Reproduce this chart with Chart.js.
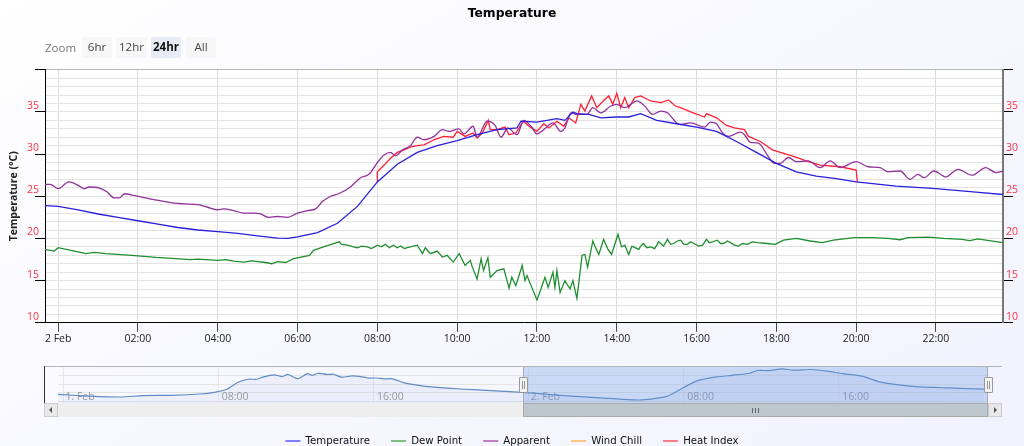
<!DOCTYPE html>
<html><head><meta charset="utf-8">
<script src="https://cdn.jsdelivr.net/npm/chart.js@4"></script>
<style>
html,body{margin:0;padding:0;width:1024px;height:446px;overflow:hidden;background:linear-gradient(150deg,#ffffff 0%,#f8f8ff 45%,#f1f2fe 100%);font-family:"Open Sans",sans-serif}
canvas{position:absolute;left:0}
#main{top:0}#nav{top:360px}
.abs{position:absolute}
.btn{position:absolute;top:37px;height:21px;line-height:19px;text-align:center;font-size:11.5px;color:#444;background:#f7f7f7;border-radius:2px}
.btn.on{background:#e6ebf5;font-weight:bold;color:#111}
#zoomlab{position:absolute;left:45px;top:39px;font-size:11.5px;color:#777;line-height:17px}
.hd{position:absolute;top:377px;width:7px;height:14px;background:#f2f2f2;border:1px solid #999;border-radius:1px}
.hd i{position:absolute;top:3px;width:1px;height:8px;background:#999}
</style></head><body>
<canvas id="main" width="1024" height="456"></canvas>
<canvas id="nav" width="1024" height="50"></canvas>
<div id="zoomlab">Zoom</div>
<div class="btn" style="left:82px;width:30px">6hr</div>
<div class="btn" style="left:116px;width:31px">12hr</div>
<div class="btn on" style="left:151px;width:30px">24hr</div>
<div class="btn" style="left:186px;width:30px">All</div>
<div class="abs" style="left:44px;top:367px;width:14px;height:36px;background:#fbfbff"></div>
<div class="abs" style="left:44px;top:366px;width:958px;height:1px;background:#b4b4b4"></div>
<div class="abs" style="left:44px;top:366px;width:1px;height:37px;background:#333"></div>
<div class="abs" style="left:523px;top:367px;width:465px;height:36px;background:rgba(102,150,225,.3);border-left:1px solid #aab;border-right:1px solid #aab;box-sizing:border-box"></div>
<div class="abs" style="left:44px;top:403px;width:958px;height:14px;background:#eeeeee"></div>
<div class="abs" style="left:523px;top:403px;width:465px;height:14px;background:#bfc7ce;box-sizing:border-box;border:1px solid #aaa"></div>
<div class="abs" style="left:752px;top:408px;width:1px;height:5px;background:#666;box-shadow:3px 0 #666,6px 0 #666"></div>
<div class="abs" style="left:44px;top:403px;width:14px;height:14px;background:#e8e8e8;border:1px solid #ccc;box-sizing:border-box"></div>
<div class="abs" style="left:49px;top:407px;border:3px solid transparent;border-right:3px solid #555;border-left:0"></div>
<div class="abs" style="left:988px;top:403px;width:14px;height:14px;background:#e8e8e8;border:1px solid #ccc;box-sizing:border-box"></div>
<div class="abs" style="left:994px;top:407px;border:3px solid transparent;border-left:3px solid #555;border-right:0"></div>
<div class="hd" style="left:519px"><i style="left:2px"></i><i style="left:4px"></i></div>
<div class="hd" style="left:984px"><i style="left:2px"></i><i style="left:4px"></i></div>
<script>
const seriesNames=["Temperature","Dew Point","Apparent","Wind Chill","Heat Index"];
const lineColors=["#2a1fdc","#1f8f2f","#92309c","#f7a035","#ff2035"];
const legendColors=["#7f7fff","#7fbf7f","#c07fc0","#ffc680","#ff7f8c"];
const titleText="Temperature";
const yAxisTitle="Temperature (°C)";
const yLabels=[10,15,20,25,30,35];
const xTickHours=[0,2,4,6,8,10,12,14,16,18,20,22];
const xTickLabels=["2 Feb","02:00","04:00","06:00","08:00","10:00","12:00","14:00","16:00","18:00","20:00","22:00"];

const tempH=[-0.33,0,0.5,1,1.5,2,2.5,3,3.5,4,4.5,5,5.5,5.75,6,6.5,7,7.5,8,8.5,9,9.5,10,10.5,11,11.5,11.6,12,12.5,12.7,12.9,13,13.3,13.6,14,14.3,14.6,15,15.5,16,16.5,17,17.5,18,18.5,19,19.5,20,21,22,23,23.7];
const tempV=[23.9,23.8,23.4,22.9,22.5,22.1,21.7,21.3,21,20.8,20.6,20.3,20.05,20,20.2,20.7,21.8,23.8,26.7,28.8,30.2,31,31.6,32.3,32.9,33.1,33.9,33.8,34.2,34,35,34.8,34.7,34.3,34.4,34.4,34.8,34,33.6,33.2,32.7,31.5,30.2,28.9,27.9,27.4,27.1,26.7,26.2,25.9,25.5,25.2];

const dewH=[-0.33,-0.1,0,0.5,0.7,0.9,1.2,1.85,2.45,2.95,3.3,3.5,4,4.2,4.4,4.65,4.85,5.2,5.35,5.5,5.7,5.9,6.3,6.4,6.65,6.9,7.05,7.1,7.25,7.4,7.5,7.6,7.75,7.85,8,8.1,8.2,8.3,8.4,8.5,8.58,8.68,8.75,9,9.13,9.2,9.33,9.5,9.63,9.75,9.9,10.05,10.2,10.33,10.38,10.5,10.6,10.66,10.77,10.83,11,11.17,11.3,11.37,11.47,11.63,11.7,11.75,11.87,12,12.1,12.2,12.28,12.4,12.45,12.5,12.58,12.7,12.83,12.9,13,13.03,13.13,13.2,13.27,13.4,13.46,13.55,13.67,13.77,13.87,14.03,14.12,14.2,14.3,14.38,14.55,14.6,14.67,14.75,14.85,14.95,15.05,15.17,15.27,15.35,15.43,15.52,15.6,15.68,15.77,15.85,15.93,16.05,16.15,16.25,16.32,16.4,16.52,16.6,16.68,16.77,16.85,16.95,17.05,17.15,17.27,17.4,17.52,17.77,17.97,18.18,18.5,18.85,19.15,19.43,19.95,20.37,20.8,21.1,21.3,21.8,22.2,22.65,22.85,23.05,23.25,23.7];
const dewV=[18.7,18.5,18.9,18.4,18.2,18.35,18.2,18,17.75,17.6,17.5,17.55,17.4,17.5,17.3,17.2,17.35,17.15,17,17.25,17.15,17.6,18,18.6,19,19.4,19.6,19.3,19.2,19,18.9,19.1,19,18.8,19.2,19,19.3,18.9,19.2,18.9,19.1,18.8,18.9,19.2,18.2,18.9,18.2,18.5,17.8,18,17.2,18.2,16.8,17.4,16.6,15.2,17.6,16.2,17.7,15.4,16.2,16.4,14.1,15.4,14.4,16.8,15,15.6,14.2,12.7,14,15.4,14.2,16,14.2,16.2,13.6,15,14,15,12.9,14,18,18.1,16.6,19.7,19,18.1,19.9,18.8,18.1,20.5,19,19.2,18.1,19.1,18.7,19.1,19.4,18.9,19,18.8,19.6,19.1,19.9,19.3,19.4,19.7,19.8,19.3,19.3,19.6,19.4,19.1,19.2,19.9,19.5,19.6,19.8,19.4,19.4,19.7,19.5,19.2,19.1,19.4,19.3,19.6,19.5,19.4,19.3,19.8,20,19.7,19.5,19.8,20.1,20.1,20,19.85,20.1,20.15,20,19.9,19.75,19.95,19.8,19.5];

const appH=[-0.33,-0.2,0,0.27,0.5,0.65,0.77,1.02,1.23,1.4,1.53,1.67,1.9,2.3,2.65,2.9,3.15,3.5,3.75,4,4.15,4.4,4.65,4.9,5.07,5.28,5.5,5.75,6,6.25,6.45,6.63,6.83,7.03,7.3,7.58,7.75,7.83,8,8.17,8.33,8.46,8.63,8.83,9,9.17,9.42,9.63,9.8,10.04,10.17,10.4,10.5,10.75,10.95,11.1,11.27,11.5,11.67,11.85,12,12.17,12.4,12.6,12.7,12.85,13,13.25,13.4,13.6,13.85,14,14.2,14.35,14.5,14.7,14.9,15.1,15.27,15.5,15.6,15.85,16.2,16.35,16.5,16.65,16.8,17.1,17.2,17.35,17.55,17.8,17.95,18.1,18.3,18.5,18.8,19.1,19.35,19.6,20,20.3,20.6,20.8,21.1,21.35,21.55,21.7,21.95,22.25,22.55,22.9,23.25,23.5,23.7];
const appV=[26.4,26.4,25.9,26.7,26.3,25.9,26.1,26,25.5,24.8,24.8,25.3,25.1,24.7,24.4,24.2,24.1,24,23.7,23.4,23.5,23.3,23,23,22.9,22.5,22.6,22.5,23,23.3,23.5,24.4,25,25.3,26,27.2,27.5,27.8,29,29.9,30.2,29.8,30.5,31,32,31.7,32.1,32.9,32.7,33,32.4,33.3,32,33.9,33.4,32,33.1,32.3,34,33.3,32.4,32.9,33.7,32.7,33.1,34.9,34.7,34.7,35.5,34.9,35.7,35.9,35.5,35.9,36.3,35.7,34.7,35.1,34.9,33.7,33.5,33.7,33.2,33.8,33.6,32.5,32.1,32.6,32.3,31.4,31.3,29.7,28.9,28.9,29.6,29.1,29.2,28.4,29.2,28.4,29.1,28.5,28.4,27.9,28,27,27.6,27.2,28,27.3,28.2,27.5,28.4,27.8,28];

const windH=[];
const windV=[];

const heatH=[8,8,8.17,8.33,8.5,8.67,8.87,9,9.17,9.42,9.66,9.9,10,10.2,10.4,10.5,10.63,10.78,10.83,11,11.2,11.3,11.47,11.66,11.8,12,12.17,12.3,12.5,12.67,12.8,12.97,13.1,13.2,13.37,13.5,13.66,13.8,13.9,14,14.1,14.2,14.3,14.45,14.6,14.85,15.1,15.3,15.47,15.6,15.85,16.2,16.25,16.5,16.75,16.95,17.2,17.3,17.6,17.9,18.1,18.45,18.8,19.1,19.6,20,20.03];
const heatV=[26.7,27.9,28.7,29.5,30.2,30.5,30.9,31,31.1,31.7,32.1,32,32.7,32.1,32.5,31.9,32.5,34,32.9,32.9,33.2,32.3,32.5,33.9,33.3,32.7,33.6,33.1,33.9,33.3,34.3,33.7,35.9,35.1,36.9,35.5,36.3,36.9,35.9,37.2,35.5,36.7,35.5,36.7,36.9,36.3,36.1,36.4,35.7,35.5,35,34.4,34.8,34.3,33.4,33.1,32.9,32.1,31.5,30.5,30.2,29.7,29.1,28.7,28.5,28.1,26.7];

const navH=[-0.26,1.35,3,4.1,5.6,7.06,7.8,8.45,9,9.55,10,10.3,10.9,11.3,11.6,12.1,12.6,12.85,13.15,13.6,13.95,14.35,14.9,15.35,15.7,16.2,16.55,17,17.55,18.1,19,20.5,22.3,23.7,24.4,25.6,27.7,29.7,31.1,32,32.7,33.7,34.5,35.4,35.8,36.4,37.1,37.6,38.6,39.4,40.2,41.2,42.1,43,44.2,45.7,47.5];
const navV=[22.7,21.9,21.45,22.1,22.25,22.9,23.7,25.2,28.4,30,30,31,32.1,31.3,32.3,30.3,32.7,31.9,32.9,32.3,32.4,31,31.6,31.3,30.6,30.6,30.2,30.2,28.4,27.4,26.3,25.3,24.4,23.7,23.2,22.25,21,20,21.6,26,29.2,31.1,31.9,32.9,34.2,34.2,35,34.4,34.7,33.9,32.7,31.5,28.7,27.4,26.3,25.8,25.2];
const navTickHours=[0,8,16,24,32,40];
const navTickLabels=["1. Feb","08:00","16:00","2. Feb","08:00","16:00"];
const navGridValues=[19.5,23.5,27.6,31.6];

const zip=(h,v)=>h.map((x,i)=>({x,y:v[i]}));
const tickFont={family:"'Open Sans',sans-serif",size:10.5};
const isMajor=v=>yLabels.includes(v)||v===40;
const plotWhite={id:'plotWhite',beforeDraw(c){const a=c.chartArea,g=c.ctx;g.save();g.fillStyle='#ffffff';g.fillRect(a.left,a.top,a.right-a.left,a.bottom-a.top);g.restore();}};

new Chart(document.getElementById('main'),{
 type:'line',
 plugins:[plotWhite],
 data:{datasets:[
  {label:seriesNames[0],data:zip(tempH,tempV),borderColor:lineColors[0],order:1},
  {label:seriesNames[1],data:zip(dewH,dewV),borderColor:lineColors[1],order:4},
  {label:seriesNames[2],data:zip(appH,appV),borderColor:lineColors[2],order:2,cubicInterpolationMode:'monotone'},
  {label:seriesNames[3],data:zip(windH,windV),borderColor:lineColors[3],order:5},
  {label:seriesNames[4],data:zip(heatH,heatV),borderColor:lineColors[4],order:3}
 ]},
 options:{
  responsive:false,animation:false,devicePixelRatio:1,
  elements:{point:{radius:0},line:{borderWidth:1.3,tension:0}},
  layout:{padding:{left:0,right:0,top:0,bottom:0}},
  plugins:{
   tooltip:{enabled:false},
   title:{display:true,text:titleText,color:'#000',font:{family:"'DejaVu Sans',sans-serif",size:12.3,weight:'bold'},padding:{top:6,bottom:49}},
   legend:{position:'bottom',labels:{
     usePointStyle:true,pointStyle:'line',pointStyleWidth:15,padding:21,color:'#111',
     font:{family:"'DejaVu Sans',sans-serif",size:10.2},
     generateLabels(chart){return chart.data.datasets.map((d,i)=>({text:d.label,strokeStyle:legendColors[i],fillStyle:legendColors[i],lineWidth:2,pointStyle:'line',datasetIndex:i,fontColor:'#111'}));}
   }}
  },
  scales:{
   x:{type:'linear',min:-0.33,max:23.68,
     afterFit(s){s.height=92;},
     afterBuildTicks(s){s.ticks=xTickHours.map(value=>({value}));},
     border:{color:'#000',width:1},
     grid:{color:'#dcdcdc',tickColor:'#444',tickLength:9},
     ticks:{autoSkip:false,maxRotation:0,padding:1,color:'#222',font:tickFont,
       callback:v=>xTickLabels[xTickHours.indexOf(v)]}},
   y:{min:10,max:40,position:'left',
     afterFit(s){s.width=45;},
     afterBuildTicks(s){s.ticks=[];for(let v=10;v<=40;v++)s.ticks.push({value:v});},
     border:{color:'#000',width:1},
     grid:{color:c=>c.tick.value===40?'#b8b8b8':'#e4e4e4',tickLength:10,tickColor:c=>isMajor(c.tick.value)?'#000':'rgba(0,0,0,0)'},
     title:{display:true,text:yAxisTitle,color:'#222',font:{family:"'Open Sans',sans-serif",size:10.5,weight:'bold'},padding:{top:8,bottom:0}},
     ticks:{autoSkip:false,color:'#ff3344',font:tickFont,padding:-4,labelOffset:-6,callback:v=>yLabels.includes(v)?String(v):''}},
   y2:{min:10,max:40,position:'right',
     afterFit(s){s.width=21;},
     afterBuildTicks(s){s.ticks=[];for(let v=10;v<=40;v++)s.ticks.push({value:v});},
     border:{color:'#777',width:2},
     grid:{drawOnChartArea:false,tickLength:10,tickColor:c=>isMajor(c.tick.value)?'#000':'rgba(0,0,0,0)'},
     ticks:{autoSkip:false,color:'#ff3344',font:tickFont,padding:-7,labelOffset:-6,callback:v=>yLabels.includes(v)?String(v):''}}
  }
 }
});

new Chart(document.getElementById('nav'),{
 type:'line',
 data:{datasets:[{label:'Navigator',data:zip(navH,navV),borderColor:'#5f8cc4',borderWidth:1.2,backgroundColor:'rgba(102,133,194,0.07)',fill:'start',pointRadius:0,tension:0.2}]},
 options:{
  responsive:false,animation:false,devicePixelRatio:1,
  layout:{padding:{left:58,right:36,top:7,bottom:7}},
  plugins:{legend:{display:false},tooltip:{enabled:false},title:{display:false}},
  scales:{
   x:{type:'linear',min:-0.26,max:47.7,
     afterFit(s){s.height=0;},
     afterBuildTicks(s){s.ticks=navTickHours.map(value=>({value}));},
     border:{display:false},
     grid:{color:'#e8e8e8',drawTicks:false},
     ticks:{autoSkip:false,maxRotation:0,mirror:true,padding:0,labelOffset:17,color:'#999',font:{family:"'Open Sans',sans-serif",size:10.5},
       callback:v=>navTickLabels[navTickHours.indexOf(v)]}},
   y:{min:18.55,max:35.9,
     afterFit(s){s.width=0;},
     afterBuildTicks(s){s.ticks=navGridValues.map(value=>({value}));},
     border:{display:false},
     grid:{color:'#e4e4e4',drawTicks:false},
     ticks:{display:false}}
  }
 }
});
</script></body></html>
